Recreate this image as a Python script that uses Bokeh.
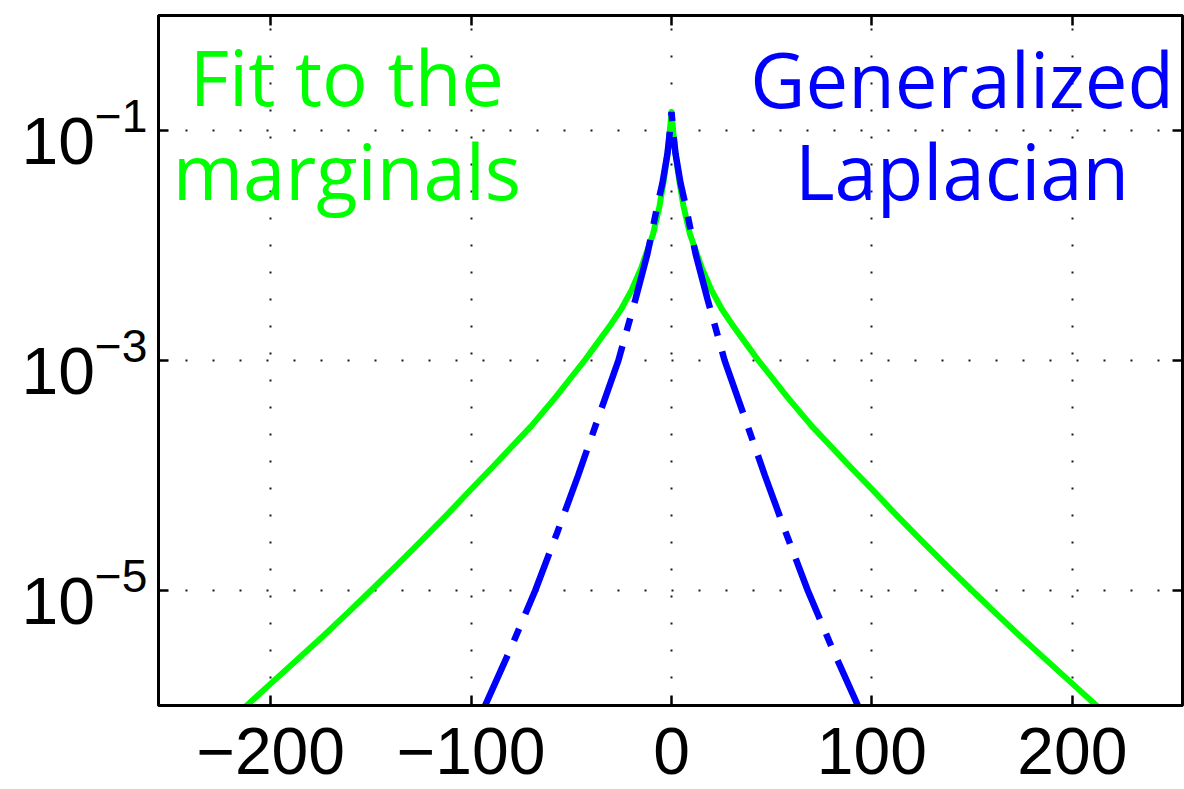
from bokeh.plotting import figure
from bokeh.models import FixedTicker, LinearAxis, LogAxis, Label, CustomJSTickFormatter
from bokeh.embed import file_html
from bokeh.resources import INLINE

# Fitted marginal density (green, solid)
green_x = [-218, -212, -200, -175, -162, -150, -137, -125, -112, -100, -90, -70, -57.4, -51, -43, -38.3,
           -30, -25, -20, -15, -9.2, -6, -4, -1.6,
           0, 1.6, 4, 6, 9.2, 15, 20, 25, 30, 38.3, 43, 51, 57.4, 70, 90, 100, 112, 125, 137, 150, 162,
           175, 200, 212, 218]
green_y = [8.1e-7, 1.0e-6, 1.55e-6, 3.85e-6, 6.3e-6, 1.0e-5, 1.66e-5, 2.69e-5, 4.57e-5, 7.6e-5, 1.15e-4,
           2.69e-4, 4.9e-4, 6.8e-4, 1.02e-3, 1.32e-3, 2.09e-3, 2.82e-3, 4.07e-3, 6.46e-3, 1.26e-2, 2.19e-2,
           3.55e-2, 7.08e-2,
           0.145, 7.08e-2, 3.55e-2, 2.19e-2, 1.26e-2, 6.46e-3, 4.07e-3, 2.82e-3, 2.09e-3, 1.32e-3, 1.02e-3,
           6.8e-4, 4.9e-4, 2.69e-4, 1.15e-4, 7.6e-5, 4.57e-5, 2.69e-5, 1.66e-5, 1.0e-5, 6.3e-6, 3.85e-6,
           1.55e-6, 1.0e-6, 8.1e-7]

# Generalized Laplacian density (blue, dash-dot)
blue_x = [-95, -93, -80, -68, -57, -46.6, -35, -26.5, -18, -12, -7, -4.5, -2, -1,
          0, 1, 2, 4.5, 7, 12, 18, 26.5, 35, 46.6, 57, 68, 80, 93, 95]
blue_y = [8.3e-7, 1.0e-6, 3.2e-6, 1.0e-5, 3.2e-5, 1.0e-4, 3.8e-4, 1.0e-3, 3.4e-3, 8.5e-3, 2.24e-2, 3.5e-2,
          6.3e-2, 9.1e-2,
          0.145, 9.1e-2, 6.3e-2, 3.5e-2, 2.24e-2, 8.5e-3, 3.4e-3, 1.0e-3, 3.8e-4, 1.0e-4, 3.2e-5, 1.0e-5,
          3.2e-6, 1.0e-6, 8.3e-7]

x_ticks = [-200, -100, 0, 100, 200]
x_tick_labels = ["\u2212200", "\u2212100", "0", "100", "200"]
y_ticks = [1e-1, 1e-3, 1e-5]

X_MIN, X_MAX = -256, 255
Y_MIN, Y_MAX = 1e-6, 1.0

p = figure(width=1184, height=789, x_range=(X_MIN, X_MAX), y_range=(Y_MIN, Y_MAX),
           y_axis_type="log", output_backend="svg", toolbar_location=None,
           min_border_left=158, min_border_right=2, min_border_top=15, min_border_bottom=84,
           background_fill_color="white", border_fill_color="white")

p.outline_line_color = "black"
p.outline_line_width = 3

xt = FixedTicker(ticks=x_ticks, minor_ticks=[])
yt = FixedTicker(ticks=y_ticks, minor_ticks=[])
blank = CustomJSTickFormatter(code="return ''")

TICK_FONT = "Liberation Sans"


def style_axis(ax):
    ax.major_tick_in = 10
    ax.major_tick_out = 0
    ax.major_tick_line_width = 2.5
    ax.major_tick_line_color = "black"
    ax.minor_tick_line_color = None
    ax.axis_line_width = 3
    ax.axis_line_color = "black"
    ax.major_label_text_font = TICK_FONT
    ax.major_label_text_font_size = "66px"
    ax.major_label_text_color = "black"


p.xaxis.ticker = xt
p.yaxis.ticker = yt
for ax in p.xaxis + p.yaxis:
    style_axis(ax)
p.xaxis.major_label_overrides = {t: lab for t, lab in zip(x_ticks, x_tick_labels)}
p.xaxis.major_label_standoff = 22
p.yaxis.major_label_standoff = 11

# framing axes on the top and right carry ticks only
top_axis = LinearAxis(ticker=xt, formatter=blank)
right_axis = LogAxis(ticker=yt, formatter=blank)
for ax in (top_axis, right_axis):
    style_axis(ax)
    ax.major_label_standoff = 0
p.add_layout(top_axis, "above")
p.add_layout(right_axis, "right")

p.xgrid.ticker = xt
p.ygrid.ticker = yt
for g in (p.xgrid, p.ygrid):
    g.grid_line_color = "black"
    g.grid_line_width = 2
    g.grid_line_dash = "2 25"
    g.grid_line_alpha = 0.9

p.line(green_x, green_y, line_color="#00ff00", line_width=6, line_join="round")
p.line(blue_x, blue_y, line_color="#0000ff", line_width=6.5, line_dash="65 16 13 16")

# curve names
NAME_FONT = "Open Sans"
for txt, xx, yy, col in [("Fit to the", -162, 0.295, "#00ff00"),
                         ("marginals", -162, 0.0449, "#00ff00"),
                         ("Generalized", 145, 0.283, "#0000ff"),
                         ("Laplacian", 145, 0.0449, "#0000ff")]:
    p.add_layout(Label(x=xx, y=yy, text=txt, text_align="center", text_baseline="alphabetic",
                       text_font=NAME_FONT, text_font_size="76px", text_color=col))

open("out.html", "w").write(file_html(p, INLINE))
